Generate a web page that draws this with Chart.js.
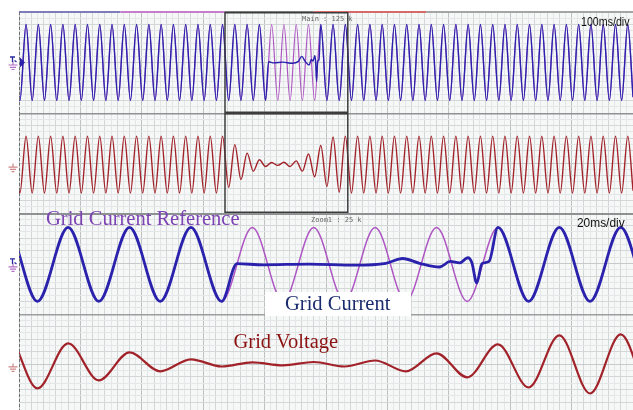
<!DOCTYPE html>
<html>
<head>
<meta charset="utf-8">
<script src="https://cdn.jsdelivr.net/npm/chart.js@4/dist/chart.umd.min.js"></script>
<style>
  html, body { margin: 0; padding: 0; background: #fff; }
  #scope { position: relative; width: 633px; height: 410px; overflow: hidden; background: #fff; }
  #scope canvas { position: absolute; left: 0; }
  .t { position: absolute; white-space: nowrap; line-height: 1; }
  .serif { font-family: "Liberation Serif", "Times New Roman", serif; font-size: 20.5px; }
  .mono { font-family: "DejaVu Sans Mono", monospace; font-size: 7px; color: #666; }
  .div { font-family: "Liberation Sans", Arial, sans-serif; font-size: 12.4px; color: #111; transform-origin: 0 0; }
  #gcBox { position: absolute; left: 265px; top: 292px; width: 146px; height: 24px; background: #fff; }
</style>
</head>
<body>
<div id="scope">
  <canvas id="mainCurrent" width="633" height="113" style="top:0"></canvas>
  <canvas id="mainVoltage" width="633" height="100" style="top:113px"></canvas>
  <canvas id="zoomCurrent" width="633" height="101" style="top:213px"></canvas>
  <canvas id="zoomVoltage" width="633" height="96" style="top:314px"></canvas>

  <div class="t mono" style="left:302px; top:16px;">Main : 125 k</div>
  <div class="t div" style="left:581px; top:15.5px; transform:scaleX(0.86);">100ms/div</div>
  <div class="t mono" style="left:311px; top:216.5px;">Zoom1 : 25 k</div>
  <div class="t div" style="left:577px; top:216.8px; transform:scaleX(0.96);">20ms/div</div>

  <div class="t serif" style="left:46px; top:208.3px; color:#7d42b4;">Grid Current Reference</div>
  <div id="gcBox"></div>
  <div class="t serif" style="left:285px; top:292.8px; color:#1b2c6e;">Grid Current</div>
  <div class="t serif" style="left:233.5px; top:331.1px; color:#8c1212;">Grid Voltage</div>
</div>

<script>
// Times (ms) of the waveform extrema over the 1 s record (50 Hz, one extremum every half cycle)
const extremaMs = [0,
  1.5, 11.5, 21.5, 31.5, 41.5, 51.5, 61.5, 71.5, 81.5, 91.5,
  101.5, 111.5, 121.5, 131.5, 141.5, 151.5, 161.5, 171.5, 181.5, 191.5,
  201.5, 211.5, 221.5, 231.5, 241.5, 251.5, 261.5, 271.5, 281.5, 291.5,
  301.5, 311.5, 321.5, 331.5, 341.5, 351.5, 361.5, 371.5, 381.5, 391.5,
  401.5, 411.5, 421.5, 431.5, 441.5, 451.5, 461.5, 471.5, 481.5, 491.5,
  501.5, 511.5, 521.5, 531.5, 541.5, 551.5, 561.5, 571.5, 581.5, 591.5,
  601.5, 611.5, 621.5, 631.5, 641.5, 651.5, 661.5, 671.5, 681.5, 691.5,
  701.5, 711.5, 721.5, 731.5, 741.5, 751.5, 761.5, 771.5, 781.5, 791.5,
  801.5, 811.5, 821.5, 831.5, 841.5, 851.5, 861.5, 871.5, 881.5, 891.5,
  901.5, 911.5, 921.5, 931.5, 941.5, 951.5, 961.5, 971.5, 981.5, 991.5,
  1000];

// Grid current reference (p.u.) at each extremum
const referenceA = [-0.9,
  -1, 1, -1, 1, -1, 1, -1, 1, -1, 1,
  -1, 1, -1, 1, -1, 1, -1, 1, -1, 1,
  -1, 1, -1, 1, -1, 1, -1, 1, -1, 1,
  -1, 1, -1, 1, -1, 1, -1, 1, -1, 1,
  -1, 1, -1, 1, -1, 1, -1, 1, -1, 1,
  -1, 1, -1, 1, -1, 1, -1, 1, -1, 1,
  -1, 1, -1, 1, -1, 1, -1, 1, -1, 1,
  -1, 1, -1, 1, -1, 1, -1, 1, -1, 1,
  -1, 1, -1, 1, -1, 1, -1, 1, -1, 1,
  -1, 1, -1, 1, -1, 1, -1, 1, -1, 1,
  -0.9];

// Grid voltage (p.u.) at each extremum: sag and recovery around the current interruption
const voltageV = [-0.9,
  -1, 1, -1, 1, -1, 1, -1, 1, -1, 1,
  -1, 1, -1, 1, -1, 1, -1, 1, -1, 1,
  -1, 1, -1, 1, -1, 1, -1, 1, -1, 1,
  -1, 1, -1, 1, -0.8, 0.7, -0.53, 0.4, -0.23, 0.17,
  -0.07, 0.07, -0.03, 0.08, -0.07, 0.13, -0.23, 0.37, -0.43, 0.67,
  -0.77, 0.97, -0.97, 1, -1, 1, -1, 1, -1, 1,
  -1, 1, -1, 1, -1, 1, -1, 1, -1, 1,
  -1, 1, -1, 1, -1, 1, -1, 1, -1, 1,
  -1, 1, -1, 1, -1, 1, -1, 1, -1, 1,
  -1, 1, -1, 1, -1, 1, -1, 1, -1, 1,
  -0.9];

// Measured grid current while it is interrupted (ms, p.u.)
const dropoutMs = [406.5, 415, 430, 445, 455, 460.5, 466, 472.5, 476, 479, 481.7, 483, 484.6, 486.3, 488.6];
const dropoutA  = [0.02, -0.01, 0.01, -0.02, 0.03, 0.16, 0.03, -0.07, 0.08, 0.04, 0.18, 0.05, -0.5, 0.02, 0.08];

// Acquisition windows (ms): full record and the zoomed span
const mainWindow = [0, 1000];
const zoomWindow = [335.5, 535.5];

const toPoints = (xs, ys) => xs.map((x, i) => ({ x, y: ys[i] }));
const referencePts = toPoints(extremaMs, referenceA);
const currentPts = [
  ...referencePts.filter(p => p.x <= 401.5),
  ...toPoints(dropoutMs, dropoutA),
  ...referencePts.filter(p => p.x >= 491.5)
];
const voltagePts = toPoints(extremaMs, voltageV);

const BLUE = '#2a22ac', PURPLE = '#ad55c2', RED = '#a2222a';

// Screen furniture: background, rules, dashed left edge, zoom frame, ground marks
const scopeDecor = {
  id: 'scopeDecor',
  beforeDraw(chart) {
    const { ctx, chartArea: a } = chart;
    ctx.save();
    ctx.fillStyle = '#f6f8f8';
    ctx.fillRect(a.left, a.top, a.right - a.left, a.bottom - a.top);
    ctx.restore();
  },
  afterDraw(chart, args, o) {
    const { ctx, chartArea: a, scales } = chart;
    const xs = scales.x;
    ctx.save();
    if (o.recordBar) {
      ctx.lineWidth = 2;
      o.recordBar.forEach(([t0, t1, c]) => {
        ctx.strokeStyle = c;
        ctx.beginPath();
        ctx.moveTo(xs.getPixelForValue(t0), a.top);
        ctx.lineTo(xs.getPixelForValue(t1), a.top);
        ctx.stroke();
      });
    }
    if (o.topRule) {
      ctx.strokeStyle = o.topRule[0];
      ctx.lineWidth = o.topRule[1];
      ctx.beginPath();
      ctx.moveTo(a.left, a.top + o.topRule[1] / 2);
      ctx.lineTo(a.right, a.top + o.topRule[1] / 2);
      ctx.stroke();
    }
    // dashed left edge of the graticule
    ctx.strokeStyle = '#6c7070';
    ctx.lineWidth = 1;
    ctx.setLineDash([3, 2]);
    ctx.beginPath();
    ctx.moveTo(a.left + 0.5, a.top);
    ctx.lineTo(a.left + 0.5, a.bottom);
    ctx.stroke();
    ctx.setLineDash([]);
    if (o.frame) {
      const x0 = xs.getPixelForValue(o.frame[0]);
      const x1 = xs.getPixelForValue(o.frame[1]);
      ctx.strokeStyle = '#3c3c3c';
      ctx.lineWidth = 1.5;
      ctx.strokeRect(x0, a.top + 0.75, x1 - x0, a.bottom - a.top - 1.5);
    }
    if (o.ground) {
      const z = scales.y.getPixelForValue(0);
      const gx = 13;
      ctx.strokeStyle = o.ground.color;
      ctx.lineWidth = 1.2;
      ctx.beginPath();
      ctx.moveTo(gx, z - 1); ctx.lineTo(gx, z + 2.5);
      ctx.moveTo(gx - 4.5, z + 2.5); ctx.lineTo(gx + 4.5, z + 2.5);
      ctx.moveTo(gx - 3, z + 4.8); ctx.lineTo(gx + 3, z + 4.8);
      ctx.moveTo(gx - 1.5, z + 7); ctx.lineTo(gx + 1.5, z + 7);
      ctx.stroke();
      if (o.ground.trig) {
        ctx.strokeStyle = o.ground.trig;
        ctx.lineWidth = 1.3;
        ctx.beginPath();
        ctx.moveTo(gx - 3, z - 5.5); ctx.lineTo(gx + 2, z - 5.5);
        ctx.moveTo(gx - 0.5, z - 5.5); ctx.lineTo(gx - 0.5, z - 0.5);
        ctx.moveTo(gx + 1.5, z - 2); ctx.lineTo(gx + 3.5, z - 0.5);
        ctx.stroke();
      }
      if (o.ground.marker) {
        ctx.fillStyle = o.ground.marker;
        ctx.beginPath();
        ctx.moveTo(a.left + 1, z - 5);
        ctx.lineTo(a.left + 6, z);
        ctx.lineTo(a.left + 1, z + 5);
        ctx.closePath();
        ctx.fill();
      }
    }
    ctx.restore();
  }
};

function gridColor(major, mid, minor) {
  return (ctx) => {
    const i = ctx.index;
    if (i % 10 === 0) return major;
    return i % 2 === 0 ? mid : minor;
  };
}

function scopePanel(id, cfg) {
  return new Chart(document.getElementById(id), {
    type: 'line',
    data: { datasets: cfg.datasets },
    options: {
      responsive: false,
      animation: false,
      events: [],
      layout: { padding: { left: 19, top: cfg.padTop || 0, right: 0, bottom: 0 } },
      elements: {
        point: { radius: 0 },
        line: { cubicInterpolationMode: 'monotone', borderJoinStyle: 'round', borderCapStyle: 'round' }
      },
      plugins: {
        legend: { display: false },
        tooltip: { enabled: false },
        scopeDecor: cfg.decor
      },
      scales: {
        x: {
          type: 'linear', min: cfg.win[0], max: cfg.win[1],
          border: { display: false },
          ticks: { display: false, stepSize: (cfg.win[1] - cfg.win[0]) / 100 },
          grid: { drawTicks: false, lineWidth: 1, color: gridColor('#bcc1c1', '#d3d7d7', '#e4e7e7') }
        },
        y: { display: false, min: cfg.y[0], max: cfg.y[1] },
        g: {
          axis: 'y', type: 'linear', position: 'left', reverse: true,
          min: 0, max: cfg.rows,
          border: { display: false },
          ticks: { display: false, stepSize: 1 },
          grid: {
            drawTicks: false, lineWidth: 1,
            color: (ctx) => (ctx.tick.value === 8 ? '#c6caca' : (ctx.tick.value % 2 === 0 ? '#d3d7d7' : '#e4e7e7'))
          }
        }
      }
    },
    plugins: [scopeDecor]
  });
}

const line = (data, color, width) => ({
  data, borderColor: color, borderWidth: width, fill: false, clip: 0
});

// Main timebase, 100 ms/div
scopePanel('mainCurrent', {
  win: mainWindow, y: [-1.33, 1.33], rows: 16, padTop: 12,
  datasets: [line(currentPts, BLUE, 1.4), line(referencePts, PURPLE, 1.2)],
  decor: {
    recordBar: [[0, 165, '#7d7dbb'], [165, 335.5, '#c47ecb'], [335.5, 480, '#7a7a7a'], [480, 663, '#d46a6a'], [663, 1000, '#a4a4a4']],
    frame: zoomWindow,
    ground: { color: '#b070c2', trig: '#2a2aa0', marker: BLUE }
  }
});
scopePanel('mainVoltage', {
  win: mainWindow, y: [-1.70, 1.81], rows: 16,
  datasets: [line(voltagePts, RED, 1.4)],
  decor: { topRule: ['#8d9191', 1.5], frame: zoomWindow, ground: { color: '#d08888' } }
});

// Zoomed timebase, 20 ms/div
scopePanel('zoomCurrent', {
  win: zoomWindow, y: [-1.34, 1.39], rows: 16,
  datasets: [line(currentPts, BLUE, 2.8), line(referencePts, PURPLE, 1.5)],
  decor: { topRule: ['#8d9191', 2], ground: { color: '#b070c2', trig: '#2a2aa0' } }
});
scopePanel('zoomVoltage', {
  win: zoomWindow, y: [-1.52, 1.68], rows: 15.24,
  datasets: [line(voltagePts, RED, 2.2)],
  decor: { topRule: ['#9a9e9e', 1.5], ground: { color: '#d08888' } }
});
</script>
</body>
</html>
